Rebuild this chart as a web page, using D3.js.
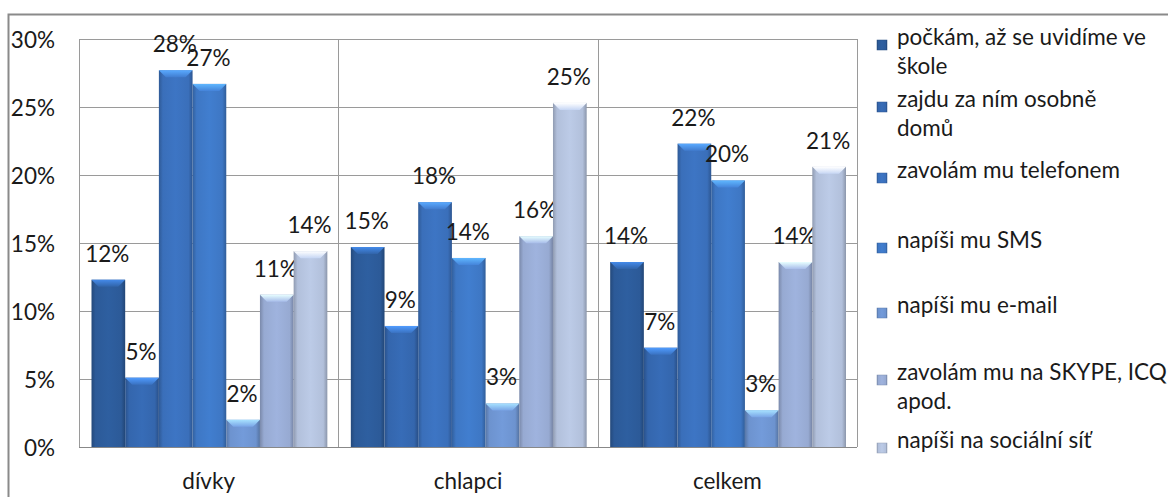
<!DOCTYPE html>
<html>
<head>
<meta charset="utf-8">
<script src="https://cdn.jsdelivr.net/npm/d3@7"></script>
<style>
  body { margin: 0; background: #fff; }
  svg text { font-family: Lato, "Open Sans", sans-serif; fill: #1a1a1a; }
</style>
</head>
<body>
<div class="bar-chart"></div>
<script>
  var categories = ["dívky", "chlapci", "celkem"];
  var seriesNames = [
    "počkám, až se uvidíme ve|škole",
    "zajdu za ním osobně|domů",
    "zavolám mu telefonem",
    "napíši mu SMS",
    "napíši mu e-mail",
    "zavolám mu na SKYPE, ICQ|apod.",
    "napíši na sociální síť"
  ];
  // one array per category, in series order
  var divky   = [12.3, 5.1, 27.7, 26.7, 2.0, 11.2, 14.4];
  var chlapci = [14.7, 8.9, 18.0, 13.9, 3.2, 15.5, 25.3];
  var celkem  = [13.6, 7.3, 22.3, 19.6, 2.7, 13.6, 20.6];
  var tickValues = [0, 5, 10, 15, 20, 25, 30];
  var seriesColors = ["#2c5a98", "#3466ad", "#3a6fba", "#3e77c4", "#6d93cf", "#97aad2", "#b2c0db"];

  var values = [divky, chlapci, celkem];

  var width = 1168, height = 497;
  var plot = { left: 79, right: 857, top: 39, bottom: 447 };
  var fontSize = "22.5px";

  var svg = d3.select(".bar-chart").append("svg")
      .attr("width", width)
      .attr("height", height);

  var defs = svg.append("defs");
  seriesColors.forEach(function (c, i) {
    var col = d3.color(c);
    var g = defs.append("linearGradient")
        .attr("id", "bar" + i)
        .attr("x1", "0").attr("x2", "1").attr("y1", "0").attr("y2", "0");
    g.append("stop").attr("offset", "0").attr("stop-color", col.darker(0.6));
    g.append("stop").attr("offset", "0.12").attr("stop-color", col);
    g.append("stop").attr("offset", "0.5").attr("stop-color", col.brighter(0.15));
    g.append("stop").attr("offset", "0.88").attr("stop-color", col);
    g.append("stop").attr("offset", "1").attr("stop-color", col.darker(0.7));
    var t = defs.append("linearGradient")
        .attr("id", "bevel" + i)
        .attr("x1", "0").attr("x2", "0").attr("y1", "0").attr("y2", "1");
    t.append("stop").attr("offset", "0").attr("stop-color", col.brighter(1.2));
    t.append("stop").attr("offset", "1").attr("stop-color", col.brighter(0.3));
  });

  // outer chart frame (runs off the right and bottom edges)
  svg.append("path")
      .attr("d", "M8.5," + height + "V14.5H" + width)
      .attr("fill", "none")
      .attr("stroke", "#8a8a8a")
      .attr("stroke-width", 2);

  var y = d3.scaleLinear().domain([0, 30]).range([plot.bottom, plot.top]);
  var x0 = d3.scaleBand().domain(categories).range([plot.left, plot.right]);
  var x1 = d3.scaleBand().domain(d3.range(seriesNames.length))
      .range([12.5, x0.bandwidth() - 11]);

  // gridlines
  svg.append("g")
      .selectAll("line")
      .data(tickValues)
      .enter().append("line")
      .attr("x1", plot.left).attr("x2", plot.right)
      .attr("y1", function (d) { return Math.round(y(d)) + 0.5; })
      .attr("y2", function (d) { return Math.round(y(d)) + 0.5; })
      .attr("stroke", "#9a9a9a");

  // vertical separators
  svg.append("g")
      .selectAll("line")
      .data([plot.left, x0("chlapci"), x0("celkem"), plot.right])
      .enter().append("line")
      .attr("x1", function (d) { return Math.round(d) + 0.5; })
      .attr("x2", function (d) { return Math.round(d) + 0.5; })
      .attr("y1", plot.top).attr("y2", plot.bottom)
      .attr("stroke", "#9a9a9a");

  // y axis labels
  var yAxis = svg.append("g")
      .attr("transform", "translate(55,0)")
      .call(d3.axisLeft(y).tickValues(tickValues).tickSize(0)
        .tickFormat(function (d) { return d + "%"; }));
  yAxis.select(".domain").remove();
  yAxis.selectAll("text")
      .attr("x", 0)
      .attr("dy", "0.38em")
      .style("font-size", fontSize);

  // x axis labels
  var xAxis = svg.append("g")
      .attr("transform", "translate(0," + plot.bottom + ")")
      .call(d3.axisBottom(x0).tickSize(0));
  xAxis.select(".domain").remove();
  xAxis.selectAll("text")
      .attr("y", 33)
      .attr("dy", "0.38em")
      .style("font-size", fontSize);

  // bars
  var groups = svg.append("g")
      .selectAll("g")
      .data(categories)
      .enter().append("g")
      .attr("transform", function (d) { return "translate(" + x0(d) + ",0)"; });

  var bars = groups.selectAll("g.bar")
      .data(function (d, ci) {
        return values[ci].map(function (v, si) { return { s: si, v: v }; });
      })
      .enter().append("g")
      .attr("class", "bar");

  bars.append("rect")
      .attr("x", function (d) { return x1(d.s); })
      .attr("y", function (d) { return y(d.v); })
      .attr("width", x1.bandwidth())
      .attr("height", function (d) { return plot.bottom - y(d.v); })
      .attr("fill", function (d) { return "url(#bar" + d.s + ")"; });

  // bevelled top
  bars.append("path")
      .attr("d", function (d) {
        var l = x1(d.s), w = x1.bandwidth(), t = y(d.v), b = 7;
        return "M" + l + "," + t + "H" + (l + w) +
               "L" + (l + w - b) + "," + (t + b) + "H" + (l + b) + "Z";
      })
      .attr("fill", function (d) { return "url(#bevel" + d.s + ")"; });

  bars.append("text")
      .attr("x", function (d) { return x1(d.s) + x1.bandwidth() / 2 - 1; })
      .attr("y", function (d) { return y(d.v) - 18; })
      .attr("text-anchor", "middle")
      .style("font-size", fontSize)
      .text(function (d) { return Math.round(d.v) + "%"; });

  // bottom axis line
  svg.append("line")
      .attr("x1", plot.left).attr("x2", plot.right)
      .attr("y1", plot.bottom + 0.5).attr("y2", plot.bottom + 0.5)
      .attr("stroke", "#888");

  // legend
  var legendTop = [45, 107, 178, 248, 313, 380, 448];
  var legend = svg.append("g")
      .selectAll("g")
      .data(seriesNames)
      .enter().append("g")
      .attr("transform", function (d, i) { return "translate(877," + legendTop[i] + ")"; });

  legend.append("rect")
      .attr("x", 0).attr("y", -5)
      .attr("width", 10).attr("height", 10)
      .attr("fill", function (d, i) { return "url(#bar" + i + ")"; })
      .attr("stroke", function (d, i) { return d3.color(seriesColors[i]).darker(0.5); })
      .attr("stroke-width", 0.5);

  legend.append("text")
      .attr("x", 20)
      .attr("dy", "0.35em")
      .style("font-size", fontSize)
      .each(function (d) {
        var lines = d.split("|");
        d3.select(this).selectAll("tspan")
          .data(lines)
          .enter().append("tspan")
          .attr("x", 20)
          .attr("dy", function (l, k) { return k ? 29 : 0; })
          .text(function (l) { return l; });
      });
</script>
</body>
</html>
